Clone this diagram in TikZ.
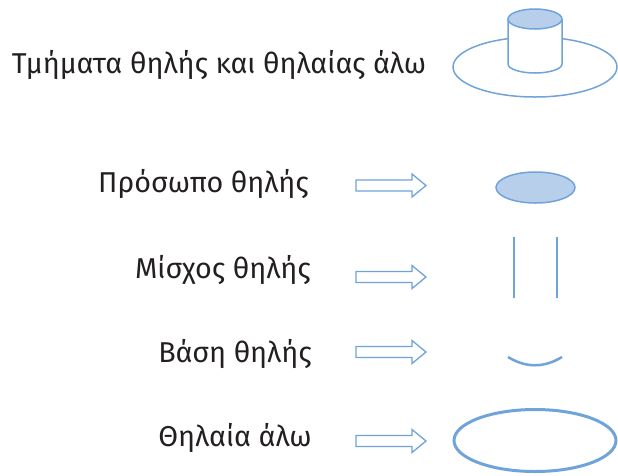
\documentclass[tikz,border=0pt]{standalone}
\usepackage{fontspec}
\setmainfont{Fira Sans}
\definecolor{partline}{RGB}{111,163,218}
\definecolor{partfill}{RGB}{183,207,234}
\definecolor{labeltext}{RGB}{35,31,32}
\tikzset{
  label text/.style={font=\fontsize{28.7}{32}\selectfont, text=labeltext, inner sep=0pt, anchor=base},
  partstroke/.style={draw=partline, line width=1.5pt},
  blockarrow/.pic={
    \draw[draw=partline, line width=1.3pt, line join=miter, fill=white]
      (0,-5.5) -- (56,-5.5) -- (56,-11.5) -- (70,0) -- (56,11.5) -- (56,5.5) -- (0,5.5) -- cycle;
  }
}
\begin{document}
\begin{tikzpicture}[x=1pt, y=-1pt]
\useasboundingbox (0,0) rectangle (618,475);

% labels
\node[label text] (title) at (219,73) {Τμήματα θηλής και θηλαίας άλω};
\node[label text] (face)  at (203.5,192) {Πρόσωπο θηλής};
\node[label text] (stem)  at (223,278) {Μίσχος θηλής};
\node[label text] (base)  at (235,362) {Βάση θηλής};
\node[label text] (areola) at (235,446) {Θηλαία άλω};

% nipple standing on the areola (y axis points down, so the arc runs 180 -> 0)
\draw[partstroke] (535,67) ellipse [x radius=82, y radius=30];
\fill[white] (508,19) -- (508,64) arc [start angle=180, end angle=0, x radius=27, y radius=9] -- (562,19) -- cycle;
\draw[partstroke] (508,19) -- (508,64) arc [start angle=180, end angle=0, x radius=27, y radius=9] -- (562,19);
\draw[partstroke, fill=partfill] (535,19) ellipse [x radius=27, y radius=10];

% block arrows
\pic at (356,185.5) {blockarrow};
\pic at (356,277) {blockarrow};
\pic at (356,352) {blockarrow};
\pic at (356,441) {blockarrow};

% separated parts
\draw[partstroke, fill=partfill] (535.5,187.5) ellipse [x radius=39.5, y radius=15.5];
\draw[draw=partline, line width=2.5pt] (514,237) -- (514,298);
\draw[draw=partline, line width=2.5pt] (557,237) -- (557,298);
\draw[draw=partline, line width=2.5pt] (508,357) .. controls (526,368) and (544,368) .. (562,357);
\draw[draw=partline, line width=3pt] (535,440.5) ellipse [x radius=81, y radius=31];
\end{tikzpicture}
\end{document}
